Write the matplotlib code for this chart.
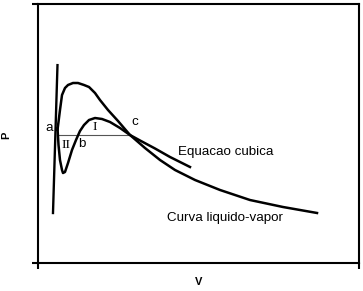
import matplotlib
matplotlib.use('Agg')
import matplotlib.pyplot as plt

plt.rcParams['font.family'] = ['Liberation Sans', 'DejaVu Sans']

# curva liquido-vapor (V, P)
lv_v = [0.607, 0.685, 0.748, 0.841, 0.935, 1.090, 1.246, 1.433, 1.589, 1.776, 1.931,
        2.181, 2.492, 2.866, 3.333, 3.801, 4.268, 4.891, 5.670, 6.604, 7.632, 8.692]
lv_p = [5.135, 5.907, 6.486, 6.757, 6.873, 6.950, 6.950, 6.873, 6.795, 6.564, 6.293,
        5.907, 5.483, 4.942, 4.440, 3.977, 3.591, 3.205, 2.819, 2.432, 2.162, 1.931]

# equacao cubica (V, P)
cub_v = [0.607, 0.639, 0.685, 0.748, 0.779, 0.841, 0.935, 1.059, 1.184, 1.308, 1.433,
         1.589, 1.776, 1.994, 2.243, 2.555, 2.866, 3.178, 3.645, 4.112, 4.735]
cub_p = [5.212, 4.556, 3.977, 3.591, 3.475, 3.514, 3.861, 4.363, 4.749, 5.097, 5.328,
         5.521, 5.598, 5.560, 5.444, 5.212, 4.942, 4.730, 4.421, 4.093, 3.707]

# ramo liquido (reta ingreme)
liq_v = [0.607, 0.467]
liq_p = [7.64, 1.93]

# linha de saturacao a-b-c
sat_v = [0.623, 2.866]
sat_p = [4.942, 4.942]

fig = plt.figure(figsize=(3.63, 2.91), dpi=100)
ax = fig.add_axes([38 / 363, 1 - 263 / 291, 321 / 363, 259 / 291])

ax.plot(sat_v, sat_p, color='#555555', lw=0.8)
ax.plot(liq_v, liq_p, color='black', lw=1.7)
ax.plot(lv_v, lv_p, color='black', lw=1.8)
ax.plot(cub_v, cub_p, color='black', lw=1.8)

ax.set_xlim(0, 10)
ax.set_ylim(0, 10)
ax.set_xticks([0, 10])
ax.set_yticks([0, 10])
ax.tick_params(direction='out', length=4.3, width=1.5, labelbottom=False, labelleft=False)
for s in ax.spines.values():
    s.set_linewidth(1.5)

fs = 9.6
ax.text(0.34, 5.21, 'a', fontsize=fs, ha='center', va='center')
ax.text(1.371, 4.59, 'b', fontsize=fs, ha='center', va='center')
ax.text(3.02, 5.46, 'c', fontsize=fs, ha='center', va='center')
ax.text(1.776, 5.25, 'I', fontsize=fs, family='Liberation Serif', ha='center', va='center')
ax.text(0.872, 4.556, 'II', fontsize=fs, family='Liberation Serif', ha='center', va='center')
ax.text(4.36, 4.28, 'Equacao cubica', fontsize=fs, ha='left', va='center')
ax.text(4.02, 1.74, 'Curva liquido-vapor', fontsize=fs, ha='left', va='center')

fig.text(6 / 363, 1 - 135 / 291, 'P', fontsize=8, fontweight='bold', rotation=90,
         ha='center', va='center')
fig.text(199 / 363, 1 - 282 / 291, 'V', fontsize=8, fontweight='bold',
         ha='center', va='center')

fig.savefig('out.png', dpi=100)
